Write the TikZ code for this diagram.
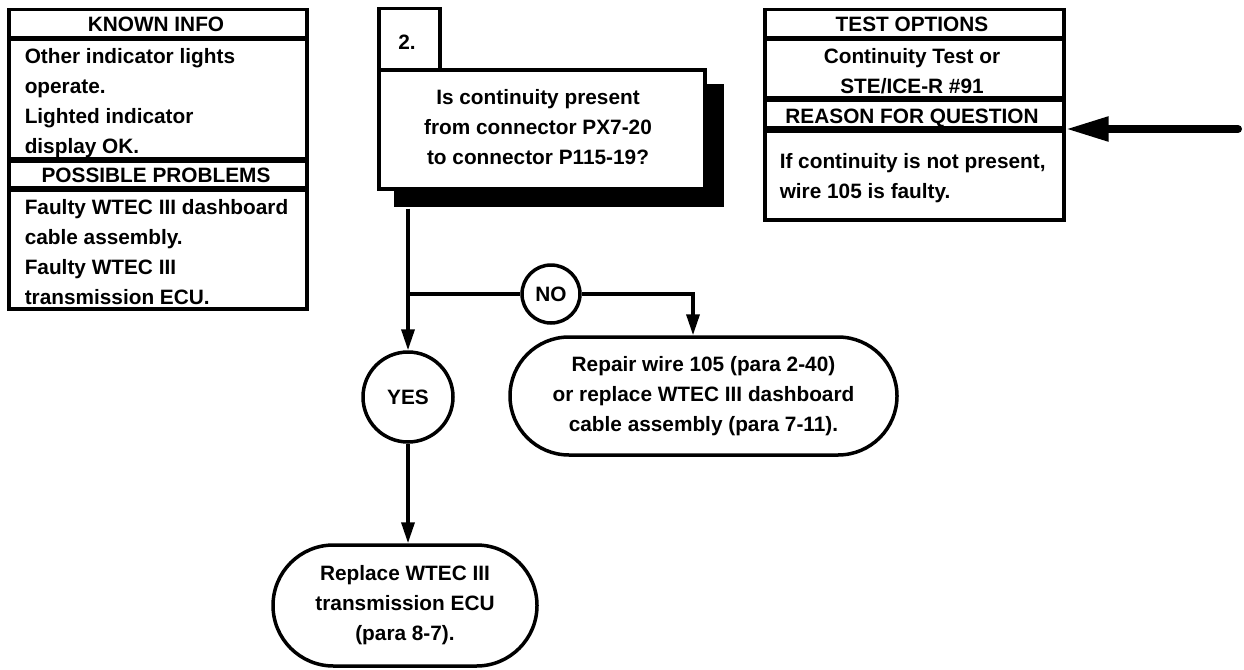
\documentclass[tikz,border=0pt]{standalone}
\usepackage{fontspec}
\setmainfont{Liberation Sans}
\usetikzlibrary{arrows.meta,shapes.misc}
\begin{document}
\begin{tikzpicture}[x=1pt,y=-1pt,
  line width=3.5pt,
  font=\bfseries\fontsize{20.8}{30}\selectfont,
  box/.style={draw, rectangle, anchor=north west, inner sep=0pt, fill=white},
  txt/.style={inner sep=0pt},
  circ/.style={draw, circle, inner sep=0pt, fill=white},
  rbox/.style={draw, rounded rectangle, inner sep=0pt, align=center, fill=white},
  arr/.style={-{Triangle[length=21pt,width=13pt]}},
  bigarr/.style={line width=8pt, line cap=round, -{Triangle[length=43pt,width=23pt]}}]
\useasboundingbox (0,0) rectangle (1244,669);

% left info box
\node[box, minimum width=298pt, minimum height=28pt] (kh) at (7,8) {};
\node[box, minimum width=298pt, minimum height=119pt] (kc) at (7,38) {};
\node[box, minimum width=298pt, minimum height=27pt] (ph) at (7,159) {};
\node[box, minimum width=298pt, minimum height=119pt] (pc) at (7,188) {};
\node[txt, anchor=base] (kht) at (156,32) {KNOWN INFO};
\node[txt, anchor=base west, align=left] (kct) at (23,153) {Other indicator lights\\operate.\\Lighted indicator\\display OK.};
\node[txt, anchor=base] (pht) at (156,182) {POSSIBLE PROBLEMS};
\node[txt, anchor=base west, align=left] (pct) at (23,304) {Faulty WTEC III dashboard\\cable assembly.\\Faulty WTEC III\\transmission ECU.};

% right info box
\node[box, minimum width=299pt, minimum height=28pt] (th) at (763,8) {};
\node[box, minimum width=299pt, minimum height=58pt] (tc) at (763,38) {};
\node[box, minimum width=299pt, minimum height=28pt] (rh) at (763,98) {};
\node[box, minimum width=299pt, minimum height=89pt] (rc) at (763,129) {};
\node[txt, anchor=base] (tht) at (912,32) {TEST OPTIONS};
\node[txt, anchor=base, align=center] (tct) at (912,93) {Continuity Test or\\STE/ICE-R \#91};
\node[txt, anchor=base] (rht) at (912,123) {REASON FOR QUESTION};
\node[txt, anchor=base west, align=left] (rct) at (778,198) {If continuity is not present,\\wire 105 is faulty.};

% question box
\node[box, minimum width=61pt, minimum height=61pt] (num) at (377,7) {};
\node[txt, anchor=base] (numt) at (407,50) {2.};
\node[rectangle, fill=black, anchor=north west, inner sep=0pt, minimum width=330pt, minimum height=123pt] (qs) at (392,82) {};
\node[box, minimum width=326pt, minimum height=119pt] (q) at (377,68) {};
\node[txt, anchor=base, align=center] (qt) at (538,164) {Is continuity present\\from connector PX7-20\\to connector P115-19?};

% decisions
\node[circ, minimum size=90pt] (yes) at (408,397) {YES};
\node[circ, minimum size=58pt] (no) at (551,294) {NO};

% results
\node[rbox, minimum width=387pt, minimum height=118pt] (rep) at (703.5,396) {Repair wire 105 (para 2-40)\\or replace WTEC III dashboard\\cable assembly (para 7-11).};
\node[rbox, minimum width=264pt, minimum height=121pt] (repl) at (405,605.5) {Replace WTEC III\\transmission ECU\\(para 8-7).};

% connectors
\coordinate (j) at (yes |- no.west);
\coordinate (rin) at ([xshift=-10.5pt]rep.north);
\draw[arr] (yes |- qs.south) -- (yes.north);
\draw (j) -- (no.west);
\draw[arr] (no.east) -| (rin);
\draw[arr] (yes.south) -- (yes.south |- repl.north);
\coordinate (ae) at (1238,129);
\draw[bigarr] (ae) -- (rc.north east);
\end{tikzpicture}
\end{document}
